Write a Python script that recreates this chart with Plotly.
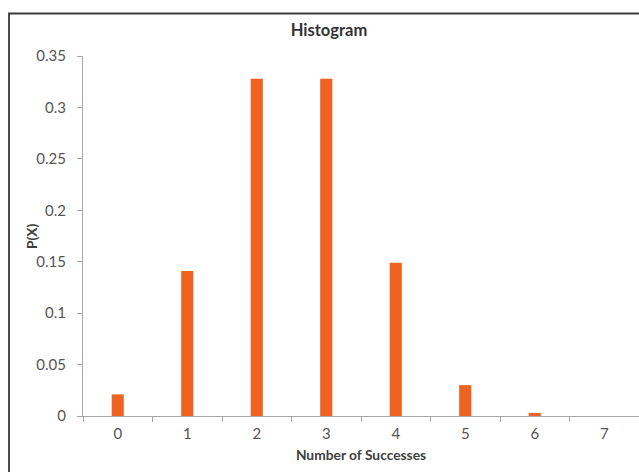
import plotly.graph_objects as go

# Probability of each number of successes
successes = ["0", "1", "2", "3", "4", "5", "6", "7"]
probabilities = [0.021, 0.141, 0.328, 0.328, 0.149, 0.030, 0.003, 0.0]

W, H = 639, 472
left, right, top, bottom = 83, 0, 56, 56
plot_w = W - left - right
plot_h = H - top - bottom


def px_x(x):
    return (x - left) / plot_w


def px_y(y):
    return (H - bottom - y) / plot_h


font_family = "Lato, 'Open Sans', sans-serif"

fig = go.Figure(
    go.Bar(
        x=successes,
        y=probabilities,
        marker=dict(color="#EF6222", line=dict(width=0)),
        hoverinfo="x+y",
    )
)

fig.update_layout(
    width=W,
    height=H,
    margin=dict(l=left, r=right, t=top, b=bottom, pad=0),
    paper_bgcolor="white",
    plot_bgcolor="white",
    bargap=0.825,
    showlegend=False,
    font=dict(family=font_family, size=15, color="#555555"),
    title=dict(
        text="<b>Histogram</b>",
        x=px_x(329),
        xref="paper",
        xanchor="center",
        y=1 - 30 / H,
        yanchor="middle",
        font=dict(family=font_family, size=16.5, color="#333333"),
    ),
    xaxis=dict(
        type="category",
        tickson="boundaries",
        ticks="outside",
        ticklen=5,
        tickcolor="#A6A6A6",
        showline=True,
        linecolor="#A6A6A6",
        linewidth=1,
        showgrid=False,
        zeroline=False,
        ticklabelstandoff=4,
        tickfont=dict(size=15, color="#555555"),
        title=dict(
            text="<b>Number of Successes</b>",
            font=dict(family=font_family, size=13.8, color="#404040"),
            standoff=9,
        ),
        fixedrange=True,
    ),
    yaxis=dict(
        range=[0, 0.35],
        dtick=0.05,
        tick0=0,
        ticks="outside",
        ticklen=5,
        tickcolor="#A6A6A6",
        showline=True,
        linecolor="#A6A6A6",
        linewidth=1,
        showgrid=False,
        zeroline=False,
        ticklabelstandoff=8,
        tickfont=dict(size=15, color="#555555"),
        fixedrange=True,
    ),
    annotations=[
        dict(
            text="<b>P(X)</b>",
            xref="paper",
            yref="paper",
            x=px_x(31),
            y=px_y(236),
            xanchor="center",
            yanchor="middle",
            textangle=-90,
            showarrow=False,
            font=dict(family=font_family, size=13.8, color="#404040"),
        )
    ],
    shapes=[
        dict(
            type="rect",
            xref="paper",
            yref="paper",
            x0=px_x(9),
            x1=px_x(W + 5),
            y0=px_y(H + 5),
            y1=px_y(13.5),
            line=dict(color="#3A3A3A", width=1.8),
            fillcolor="rgba(0,0,0,0)",
            layer="below",
        )
    ],
)

fig.write_html("out.html")
